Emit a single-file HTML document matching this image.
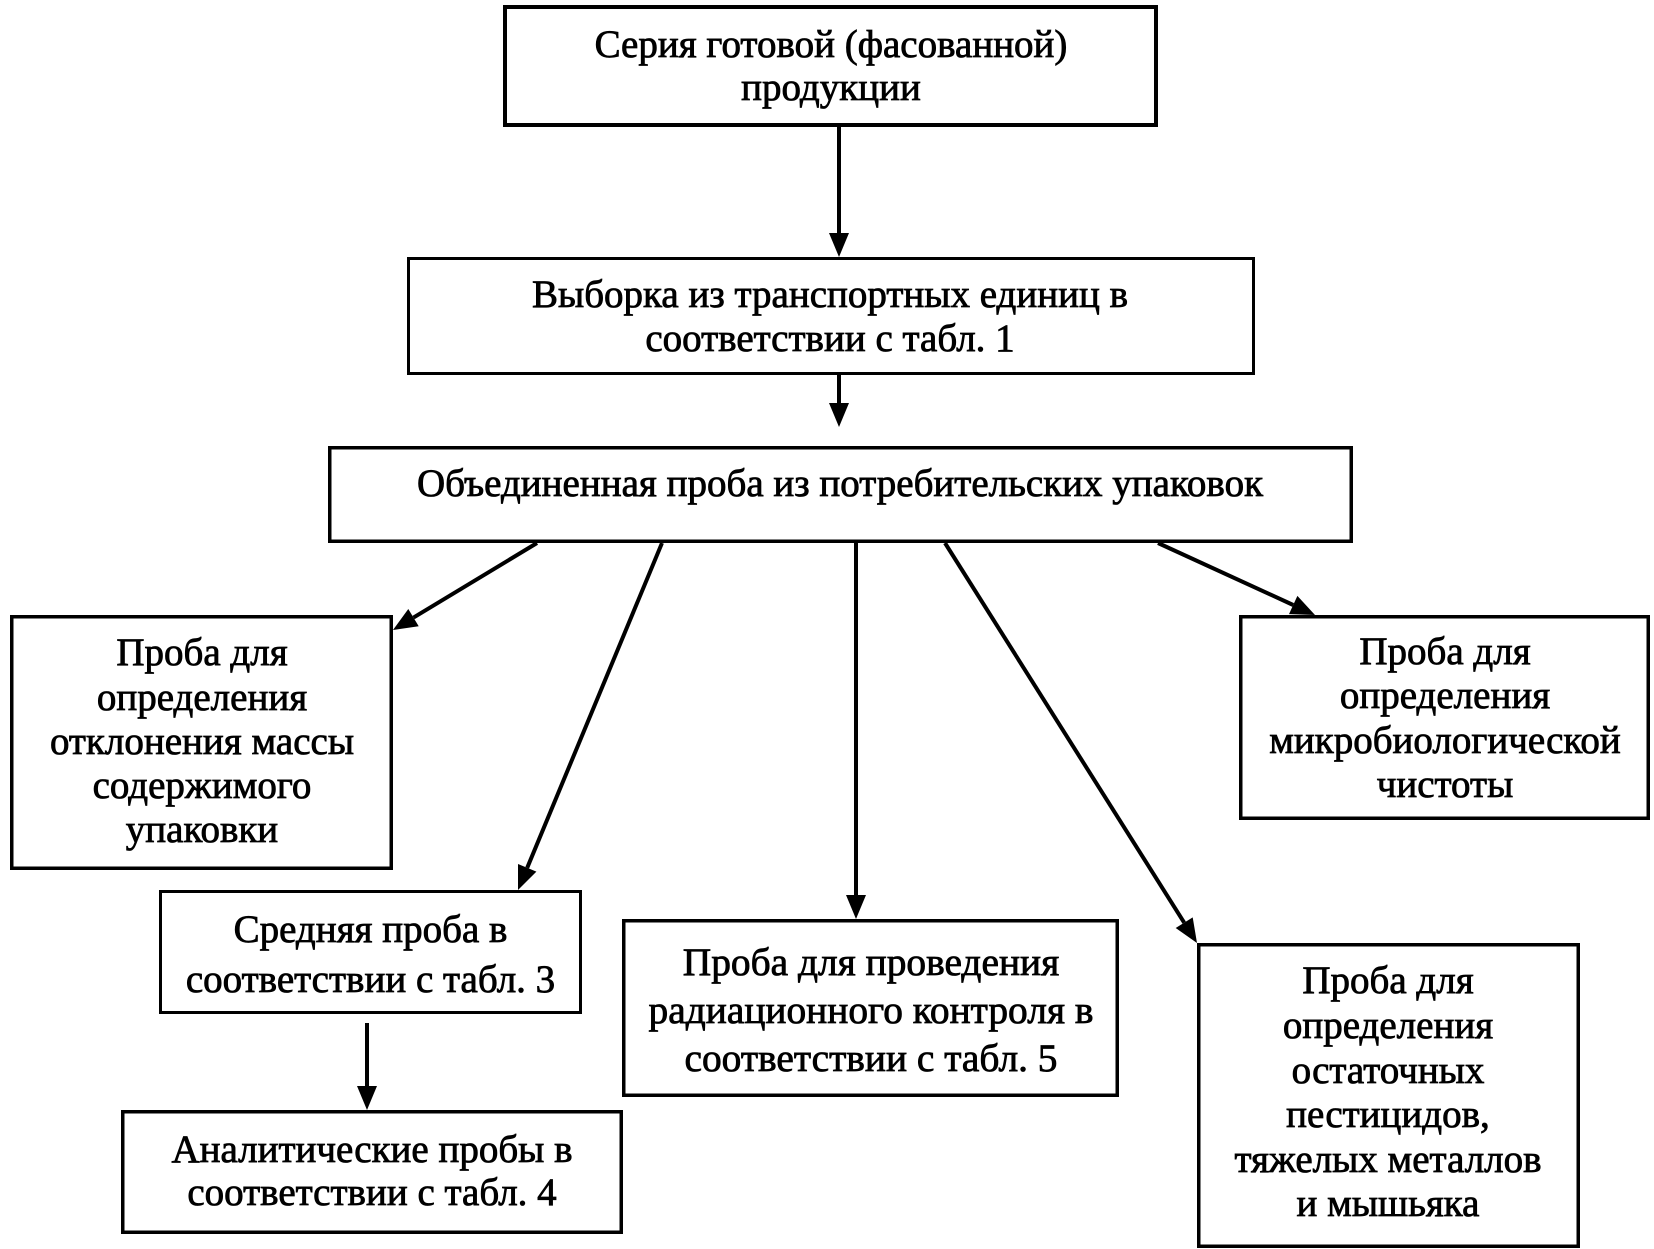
<!DOCTYPE html>
<html>
<head>
<meta charset="utf-8">
<style>
  html,body{margin:0;padding:0;background:#fff;}
  body{width:1654px;height:1249px;overflow:hidden;}
  svg{display:block;}
  text{font-family:"Liberation Serif","Times New Roman",serif;font-size:39px;fill:#000;stroke:#000;stroke-width:0.8px;text-anchor:middle;}
</style>
</head>
<body>
<svg width="1654" height="1249" viewBox="0 0 1654 1249" xmlns="http://www.w3.org/2000/svg">

  <!-- boxes -->
  <g fill="#fff" stroke="#000">
    <rect x="505" y="7" width="651" height="118" stroke-width="4"/>
    <rect x="408.5" y="258.5" width="845" height="115" stroke-width="3"/>
    <rect x="329.75" y="447.75" width="1021.5" height="93.5" stroke-width="3.5"/>
    <rect x="11.75" y="616.75" width="379.5" height="251.5" stroke-width="3.5"/>
    <rect x="1240.75" y="616.75" width="407.5" height="201.5" stroke-width="3.5"/>
    <rect x="160.5" y="891.5" width="420" height="121" stroke-width="3"/>
    <rect x="122.75" y="1111.75" width="498.5" height="120.5" stroke-width="3.5"/>
    <rect x="623.75" y="920.75" width="493.5" height="174.5" stroke-width="3.5"/>
    <rect x="1198.75" y="944.75" width="379.5" height="301.5" stroke-width="3.5"/>
  </g>

  <!-- connectors -->
  <g stroke="#000" stroke-width="4" fill="none">
    <line x1="839" y1="127" x2="839" y2="236"/>
    <line x1="839" y1="375" x2="839" y2="406"/>
    <line x1="537" y1="543" x2="413.5" y2="617.6"/>
    <line x1="662" y1="543" x2="527.2" y2="867.8"/>
    <line x1="856" y1="543" x2="856" y2="898"/>
    <line x1="945" y1="543" x2="1184.2" y2="922.7"/>
    <line x1="1158" y1="543" x2="1293.2" y2="605"/>
    <line x1="367" y1="1023" x2="367" y2="1089"/>
  </g>
  <!-- arrowheads -->
  <g fill="#000" stroke="none">
    <polygon points="839,257 829,233 849,233"/>
    <polygon points="839,427 829,403 849,403"/>
    <polygon points="393,630 418.7,626.2 408.3,609"/>
    <polygon points="518,890 536.4,871.6 518,864"/>
    <polygon points="856,919 846,895 866,895"/>
    <polygon points="1197,943 1192.7,917.4 1175.7,928"/>
    <polygon points="1315,615 1297.4,595.9 1289,614.1"/>
    <polygon points="367,1110 357,1086 377,1086"/>
  </g>

  <!-- texts -->
  <text x="831" y="57">Серия готовой (фасованной)</text>
  <text x="831" y="100">продукции</text>

  <text x="830" y="307">Выборка из транспортных единиц в</text>
  <text x="830" y="351">соответствии с табл. 1</text>

  <text x="840" y="496">Объединенная проба из потребительских упаковок</text>

  <text x="202" y="665">Проба для</text>
  <text x="202" y="710">определения</text>
  <text x="202" y="754">отклонения массы</text>
  <text x="202" y="798">содержимого</text>
  <text x="202" y="842">упаковки</text>

  <text x="1445" y="664">Проба для</text>
  <text x="1445" y="708">определения</text>
  <text x="1445" y="753">микробиологической</text>
  <text x="1445" y="797">чистоты</text>

  <text x="370.5" y="942">Средняя проба в</text>
  <text x="370.5" y="992">соответствии с табл. 3</text>

  <text x="372" y="1162">Аналитические пробы в</text>
  <text x="372" y="1205">соответствии с табл. 4</text>

  <text x="871" y="975" style="font-size:39.4px">Проба для проведения</text>
  <text x="871" y="1023" style="font-size:39.4px">радиационного контроля в</text>
  <text x="871" y="1071" style="font-size:39.4px">соответствии с табл. 5</text>

  <text x="1388" y="993">Проба для</text>
  <text x="1388" y="1038">определения</text>
  <text x="1388" y="1083">остаточных</text>
  <text x="1388" y="1127">пестицидов,</text>
  <text x="1388" y="1172">тяжелых металлов</text>
  <text x="1388" y="1216">и мышьяка</text>
</svg>
</body>
</html>
